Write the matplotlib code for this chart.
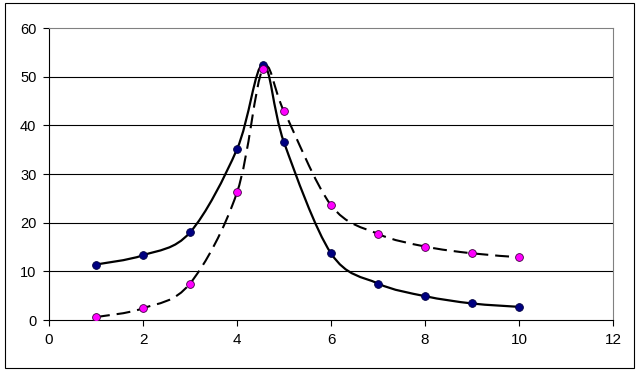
import matplotlib
matplotlib.use("Agg")
import matplotlib.pyplot as plt
from matplotlib.path import Path
from matplotlib.patches import PathPatch, Rectangle
import numpy as np

plt.rcParams['font.family'] = ['Liberation Sans', 'DejaVu Sans']
plt.rcParams['lines.scale_dashes'] = False

# data
x_solid = [1, 2, 3, 4, 4.55, 5, 6, 7, 8, 9, 10]
y_solid = [11.4, 13.3, 18.0, 35.1, 52.5, 36.5, 13.7, 7.5, 4.9, 3.4, 2.7]
x_dash = [1, 2, 3, 4, 4.55, 5, 6, 7, 8, 9, 10]
y_dash = [0.6, 2.4, 7.5, 26.2, 51.6, 42.9, 23.6, 17.7, 15.1, 13.7, 12.9]
x_ticks = [0, 2, 4, 6, 8, 10, 12]
y_ticks = [0, 10, 20, 30, 40, 50, 60]


def smooth_path(xs, ys):
    P = np.column_stack([xs, ys]).astype(float)
    n = len(P)
    verts = [P[0]]
    codes = [Path.MOVETO]
    for i in range(n - 1):
        p0 = P[i - 1] if i > 0 else P[i]
        p1 = P[i]
        p2 = P[i + 1]
        p3 = P[i + 2] if i + 2 < n else P[i + 1]
        c1 = p1 + (p2 - p0) / 6.0
        c2 = p2 - (p3 - p1) / 6.0
        verts += [c1, c2, p2]
        codes += [Path.CURVE4] * 3
    return Path(verts, codes)


fig = plt.figure(figsize=(6.4, 3.71), dpi=100)
ax = fig.add_axes([49 / 640, 51 / 371, 564 / 640, 292 / 371])

ax.add_patch(PathPatch(smooth_path(x_solid, y_solid), fill=False,
                       edgecolor='black', lw=1.6, zorder=3))
ax.add_patch(PathPatch(smooth_path(x_dash, y_dash), fill=False,
                       edgecolor='black', lw=1.5, linestyle=(0, (10, 5)),
                       zorder=3))
ax.plot(x_solid, y_solid, linestyle='none', marker='o', ms=5.6,
        mfc='#000080', mec='#000040', mew=0.6, zorder=4)
ax.plot(x_dash, y_dash, linestyle='none', marker='o', ms=5.6,
        mfc='#ff00ff', mec='#400040', mew=0.6, zorder=4)

ax.set_xlim(0, 12)
ax.set_ylim(0, 60)
ax.set_xticks(x_ticks)
ax.set_yticks(y_ticks)
ax.set_xticklabels([str(v) for v in x_ticks], fontsize=11)
ax.set_yticklabels([str(v) for v in y_ticks], fontsize=10.5)
for y in y_ticks[1:-1]:
    ax.axhline(y, color='black', lw=0.8, zorder=1)
ax.spines['top'].set_color('#808080')
ax.spines['right'].set_color('#808080')
ax.spines['left'].set_color('black')
ax.spines['bottom'].set_color('black')
for s in ax.spines.values():
    s.set_linewidth(0.8)
ax.tick_params(direction='out', length=4, width=0.8, colors='black', pad=5)

fig.patches.append(Rectangle((5 / 640, 3 / 371), 629 / 640, 365 / 371,
                             transform=fig.transFigure, fill=False,
                             edgecolor='black', lw=0.8))

fig.savefig('out.png', dpi=100)
